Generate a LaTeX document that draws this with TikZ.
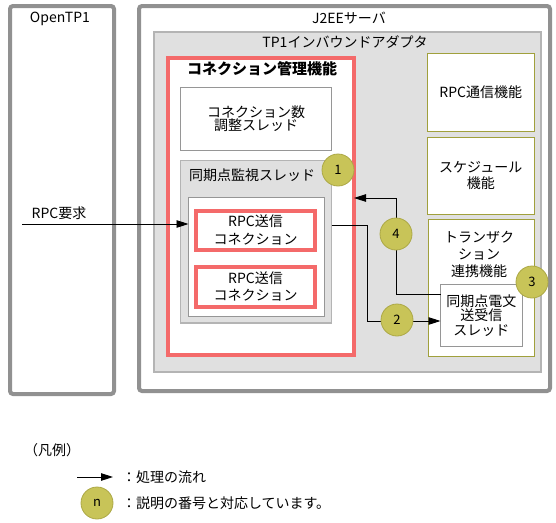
\documentclass[tikz,border=0pt]{standalone}
\usepackage{fontspec}
\setmainfont{Noto Sans CJK JP}
\usetikzlibrary{arrows.meta}
\definecolor{outergray}{RGB}{145,145,145}
\definecolor{tpfill}{RGB}{224,224,224}
\definecolor{tpborder}{RGB}{180,180,180}
\definecolor{boxgray}{RGB}{150,150,150}
\definecolor{redline}{RGB}{244,106,106}
\definecolor{olive}{RGB}{160,160,60}
\definecolor{circfill}{RGB}{200,196,88}
\definecolor{circborder}{RGB}{172,168,70}
\newcommand{\fs}[1]{\fontsize{14}{#1}\selectfont}
\begin{document}
\begin{tikzpicture}[x=1pt,y=-1pt,
  every node/.style={inner sep=0pt,outer sep=0pt},
  boxbase/.style={rectangle,anchor=north west,align=center},
  outerbox/.style={boxbase,draw=outergray,line width=4pt,fill=white,rounded corners=3pt},
  adapterbox/.style={boxbase,draw=tpborder,line width=1.2pt,fill=tpfill},
  redbox/.style={boxbase,draw=redline,line width=4pt,fill=white},
  thinbox/.style={boxbase,draw=boxgray,line width=1pt,fill=white},
  graybox/.style={boxbase,draw=tpborder,line width=1.2pt,fill=tpfill},
  olivebox/.style={boxbase,draw=olive,line width=1pt,fill=white},
  txt/.style={font=\fs{15},align=center},
  numcirc/.style={circle,draw=circborder,line width=0.8pt,fill=circfill,minimum size=32pt,font=\fontsize{13}{13}\selectfont},
  flow/.style={line width=0.9pt,-{Triangle[length=12pt,width=7.5pt]}},
  plain/.style={line width=0.9pt}
]
\useasboundingbox (0,0) rectangle (556,522);

% outer containers
\node[outerbox,minimum width=104pt,minimum height=388pt] (otp) at (10,6) {};
\node[txt] (otplabel) at (60,19) {OpenTP1};
\node[outerbox,minimum width=411pt,minimum height=385pt] (j2ee) at (139,6) {};
\node[txt] (j2eelabel) at (349,18) {J2EEサーバ};

% adapter
\node[adapterbox,minimum width=387pt,minimum height=340pt] (tp1) at (154,32) {};
\node[txt] (tp1label) at (345,42) {TP1インバウンドアダプタ};

% connection management
\node[redbox,minimum width=186pt,minimum height=297.5pt] (conn) at (168,57.5) {};
\node[font=\fontsize{15}{15}\selectfont\bfseries] (connlabel) at (262,69) {コネクション管理機能};

\node[thinbox,minimum width=151pt,minimum height=63pt,font=\fs{13.5}] (adjust) at (180.5,87) {コネクション数\\調整スレッド};

\node[graybox,minimum width=151pt,minimum height=162.5pt] (syncmon) at (180.5,160.5) {};
\node[txt,anchor=west] (syncmonlabel) at (189,175) {同期点監視スレッド};
\node[thinbox,minimum width=135.5pt,minimum height=118.5pt] (inner) at (188.5,197.5) {};
\node[redbox,minimum width=119pt,minimum height=39pt,font=\fs{18}] (rpc1) at (196,211) {RPC送信\\コネクション};
\node[redbox,minimum width=119pt,minimum height=40pt,font=\fs{17}] (rpc2) at (196,267) {RPC送信\\コネクション};

% right side functions
\node[olivebox,minimum width=106.5pt,minimum height=77.5pt,font=\fs{15}] (rpcc) at (427.5,53.5) {RPC通信機能};
\node[olivebox,minimum width=106.5pt,minimum height=76.5pt,font=\fs{16}] (sched) at (427.5,137.5) {スケジュール\\機能};
\node[olivebox,minimum width=105.5pt,minimum height=136.5pt] (trans) at (428.5,219.5) {};
\node[font=\fs{17},align=center] (translabel) at (479,254) {トランザク\\ション\\連携機能};
\node[thinbox,minimum width=81.5pt,minimum height=61.5pt,font=\fs{14.5}] (syncsend) at (440.5,284.5) {同期点電文\\送受信\\スレッド};

% connectors
\coordinate (rpcstart) at (22,224);
\node[txt] (rpclabel) at (59,213) {RPC要求};
\draw[flow] (rpcstart) -- (inner.west |- rpcstart);

\coordinate (s2a) at (331.5,225);
\coordinate (s2b) at (367,225);
\coordinate (s2c) at (367,321);
\draw[flow] (s2a) -- (s2b) -- (s2c) -- (syncsend.west |- s2c);

\coordinate (s4a) at (440.5,294);
\coordinate (s4b) at (396,294);
\coordinate (s4c) at (396,198);
\draw[flow] (s4a) -- (s4b) -- (s4c) -- (conn.east |- s4c);

% number circles
\node[numcirc] (c1) at (338,170) {1};
\node[numcirc] (c2) at (397,320) {2};
\node[numcirc] (c3) at (532,282) {3};
\node[numcirc] (c4) at (396,234) {4};

% legend
\node[txt,anchor=west] (legtitle) at (24,450) {（凡例）};
\coordinate (lega) at (77,477);
\coordinate (legb) at (113,477);
\draw[flow] (lega) -- (legb);
\node[txt,anchor=west] (legflow) at (122,477) {：処理の流れ};
\node[numcirc] (legn) at (97,503) {n};
\node[txt,anchor=west] (legnum) at (122,503) {：説明の番号と対応しています。};
\end{tikzpicture}
\end{document}
